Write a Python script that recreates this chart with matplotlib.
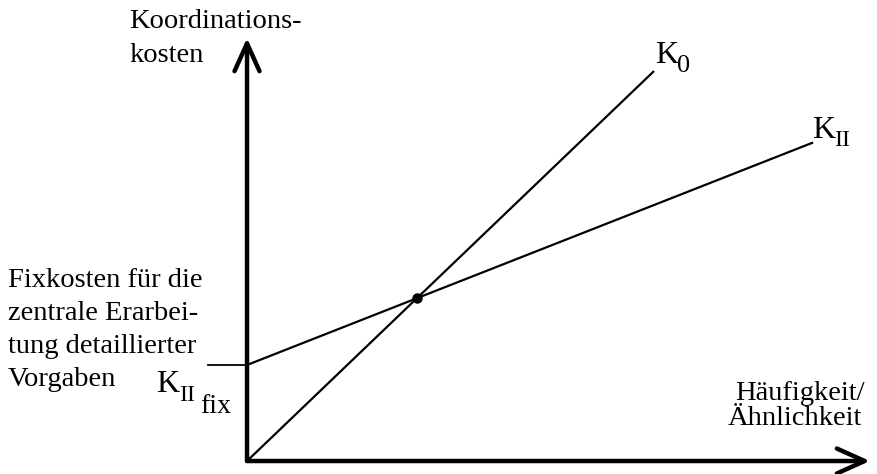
import numpy as np
import matplotlib
matplotlib.use('Agg')
import matplotlib.pyplot as plt

# cost curves (arbitrary units, origin = 0/0)
x_k0 = [0, 65.2]
k0 = [0, 92.0]
x_kii = [0, 90.7]
kii = [22.7, 75.2]
x_fix_tick = [-6.3, 0]

W, H = 878, 474
plt.rcParams['font.family'] = ['Liberation Serif', 'DejaVu Serif']

fig = plt.figure(figsize=(W / 100, H / 100), dpi=100)
ax = fig.add_axes([0, 0, 1, 1])
ax.set_xlim(-39.65, 101.28)
ax.set_ylim(-3.07, 108.98)
ax.axis('off')

def px(x, y):
    # pixel position -> figure fraction
    return x / W, 1 - y / H

# axes with open arrow heads
arr = dict(arrowstyle='->,head_length=1.0,head_width=0.45', lw=3.2,
           color='black', mutation_scale=20, shrinkA=0, shrinkB=0)
ax.annotate('', xy=(0, 100), xytext=(0, 0), arrowprops=arr)
ax.annotate('', xy=(100, 0), xytext=(0, 0), arrowprops=arr)

ax.plot(x_k0, k0, color='black', lw=1.6)
ax.plot(x_kii, kii, color='black', lw=1.6)
ax.plot(x_fix_tick, [kii[0], kii[0]], color='black', lw=1.3)

# intersection point
s0 = (k0[1] - k0[0]) / (x_k0[1] - x_k0[0])
s2 = (kii[1] - kii[0]) / (x_kii[1] - x_kii[0])
xi = (kii[0] - k0[0]) / (s0 - s2)
ax.plot([xi], [k0[0] + s0 * xi], 'o', color='black', ms=6.5)

fs = 20.5
def txt(x, y, s, size=fs):
    fig.text(*px(x, y), s, fontsize=size, va='baseline', ha='left')

txt(129, 28, 'Koordinations-')
txt(129, 62, 'kosten')

for i, line in enumerate(['Fixkosten für die', 'zentrale Erarbei-',
                          'tung detaillierter', 'Vorgaben']):
    txt(8, 287 + 33 * i, line)

txt(156, 392, 'K', 23)
txt(179, 401, 'II', 17)
txt(200, 413, 'fix', 20)

txt(655, 63, 'K', 23)
txt(677, 72, '0', 19)

txt(812, 138, 'K', 23)
txt(834, 146, 'II', 17)

txt(735, 400, 'Häufigkeit/')
txt(728, 425, 'Ähnlichkeit')

fig.savefig('out.png', dpi=100)
